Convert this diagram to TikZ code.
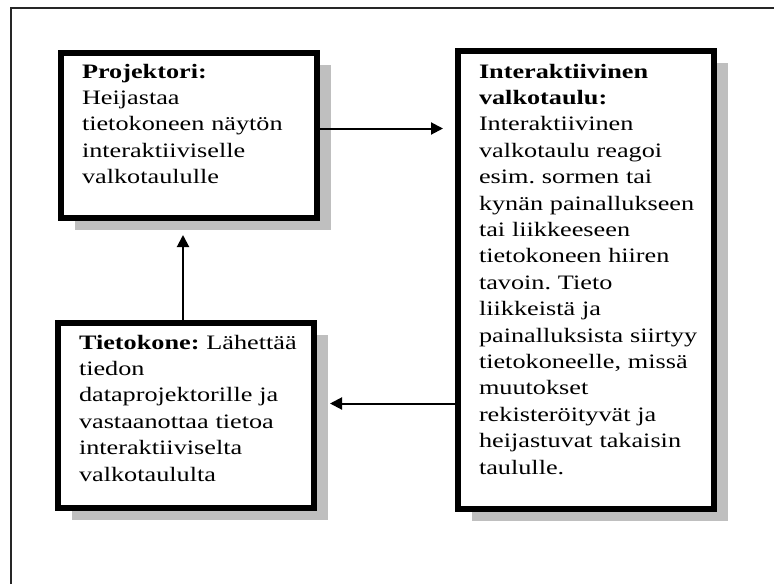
\documentclass[tikz,border=0pt]{standalone}
\usepackage{fontspec}
\setmainfont{Liberation Serif}[FakeStretch=1.28]
\usepackage{tikz}
\usetikzlibrary{arrows.meta,shadows}

\begin{document}
\begin{tikzpicture}[x=1pt, y=1pt,
	laatikko/.style={draw, rectangle, line width=6pt, fill=white, text width=214pt, align=left,
		inner xsep=21pt, inner ysep=0pt, anchor=north west,
		font={\fontsize{20.5}{26.4}\selectfont\hyphenpenalty 10000 },
		drop shadow={shadow xshift=14pt, shadow yshift=-12pt, fill=gray!50, opacity=1}},
	nuoli/.style={line width=2pt, -{Triangle[length=12pt,width=12pt]}}]
		\useasboundingbox (0,0) rectangle (774,-584);
		\draw[line width=2pt, black!85] (11,-584) |- (774,-8);

		\node[laatikko, text height=25pt, text depth=140pt] (proj) at (58,-50) {
			\textbf{Projektori:}\\
			Heijastaa\\
			tietokoneen~näytön\\
			interaktiiviselle\\
			valkotaululle
		};
		\node[laatikko, text height=26pt, text depth=159pt] (kone) at (55,-320) {
			\textbf{Tietokone:}~Lähettää\\
			tiedon\\
			dataprojektorille~ja\\
			vastaanottaa~tietoa\\
			interaktiiviselta\\
			valkotaululta
		};
		\node[laatikko, text height=27pt, text depth=431pt] (taulu) at (455,-48) {
			\textbf{Interaktiivinen}\\
			\textbf{valkotaulu:}\\
			Interaktiivinen\\
			valkotaulu~reagoi\\
			esim.\ sormen~tai\\
			kynän~painallukseen\\
			tai~liikkeeseen\\
			tietokoneen~hiiren\\
			tavoin.~Tieto\\
			liikkeistä~ja\\
			painalluksista~siirtyy\\
			tietokoneelle,~missä\\
			muutokset\\
			rekisteröityvät~ja\\
			heijastuvat~takaisin\\
			taululle.
		};

		\draw[nuoli, shorten >=14pt] ([xshift=-3pt]kone.north) -- ([xshift=-3pt]kone.north |- proj.south);
		\draw[nuoli, shorten >=12pt] ([yshift=7pt]proj.east) -- ([yshift=7pt]proj.east -| taulu.west);
		\draw[nuoli, shorten >=13pt] ([yshift=12pt]kone.east -| taulu.west) -- ([yshift=12pt]kone.east);
	\end{tikzpicture}
\end{document}
